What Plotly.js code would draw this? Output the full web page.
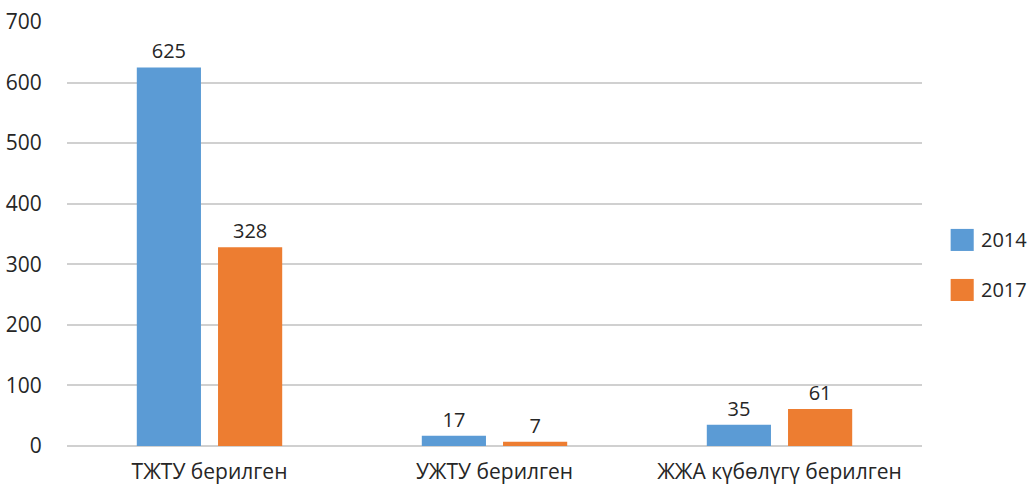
<!DOCTYPE html>
<html><head><meta charset="utf-8">
<script src="https://cdn.plot.ly/plotly-3.0.1.min.js"></script>
<style>html,body{margin:0;padding:0;background:#fff}#chart{width:1030px;height:488px}</style>
</head><body><div id="chart"></div>
<script>
var categories = ["ТЖТУ берилген", "УЖТУ берилген", "ЖЖА күбөлүгү берилген"];
var values2014 = [625, 17, 35];
var values2017 = [328, 7, 61];
var seriesNames = ["2014", "2017"];
var seriesColors = ["#5B9BD5", "#ED7D31"];
var yTicks = [0, 100, 200, 300, 400, 500, 600, 700];

var font = {family: "Open Sans, Liberation Sans, sans-serif", size: 21, color: "#262626"};
var labelFont = {family: "Open Sans, Liberation Sans, sans-serif", size: 20, color: "#262626"};
function tr(name, vals, color) {
  return {type: "bar", name: name, x: categories, y: vals, showlegend: false,
    marker: {color: color}, text: vals.map(String), textposition: "outside",
    textfont: labelFont, cliponaxis: false};
}
var data = [tr(seriesNames[0], values2014, seriesColors[0]), tr(seriesNames[1], values2017, seriesColors[1])];

// custom legend (larger swatches as in the reference)
var shapes = [], annotations = [];
var legY = [0.486, 0.368];
seriesNames.forEach(function (n, i) {
  shapes.push({type: "rect", xref: "paper", yref: "paper", x0: 1.0335, x1: 1.0605,
    y0: legY[i] - 0.026, y1: legY[i] + 0.026, fillcolor: seriesColors[i], line: {width: 0}});
  annotations.push({xref: "paper", yref: "paper", x: 1.067, y: legY[i], xanchor: "left", yanchor: "middle",
    text: n, showarrow: false, font: labelFont});
});

var layout = {
  width: 1030, height: 488,
  margin: {l: 67, r: 108, t: 22, b: 42},
  paper_bgcolor: "#fff", plot_bgcolor: "#fff",
  font: font,
  barmode: "group", bargap: 0.43, bargroupgap: 0.21,
  xaxis: {showgrid: false, showline: false, ticks: "outside", ticklen: 7, tickcolor: "rgba(0,0,0,0)", tickfont: font},
  yaxis: {range: [0, 700], tickvals: yTicks, showgrid: true, gridcolor: "#D0D0D0", gridwidth: 2,
    zeroline: true, zerolinecolor: "#D0D0D0", zerolinewidth: 2, showline: false, ticks: "outside",
    ticklen: 20, tickcolor: "rgba(0,0,0,0)", tickfont: font},
  shapes: shapes, annotations: annotations,
  showlegend: false
};
Plotly.newPlot("chart", data, layout, {displayModeBar: false, staticPlot: true});
</script></body></html>
